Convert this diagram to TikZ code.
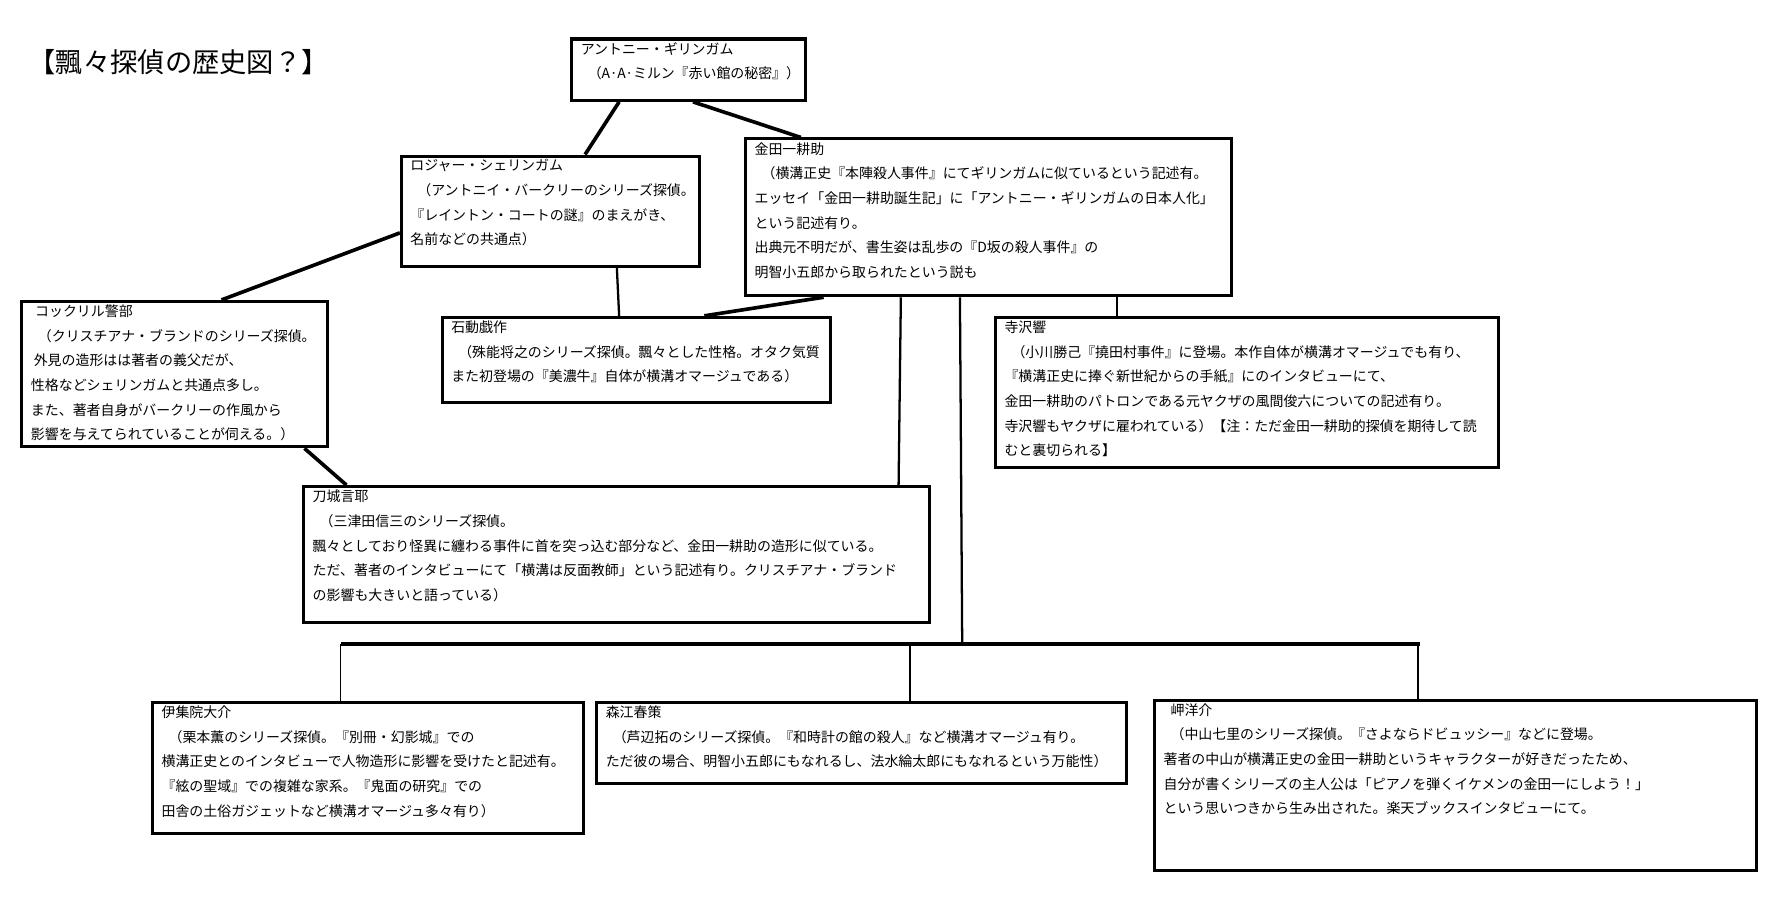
\documentclass[tikz,border=0pt]{standalone}
\usepackage{fontspec}
\setmainfont{Noto Sans CJK JP}
\usetikzlibrary{calc}
\begin{document}
\begin{tikzpicture}[x=0.75pt,y=-0.75pt,
  box/.style={draw,line width=2pt,rectangle,inner sep=0pt},
  txt/.style={anchor=north west,align=left,inner sep=0pt,font=\fontsize{9.2}{16.3}\selectfont},
  link/.style={line width=2.4pt},
  thin/.style={line width=1.5pt}]
\useasboundingbox[fill=white] (0,0) rectangle (1566,789);
\newcommand\mkbox[6]{%
  \node[box,minimum width={(#4-#2)*0.75pt},minimum height={(#5-#3)*0.75pt},anchor=north west] (#1) at (#2,#3) {};
  \node[txt] (#1t) at ($(#1.north west)+(9,4)$) {#6};}
\node[anchor=west,inner sep=0pt,font=\fontsize{18}{20}\selectfont] (title) at (25,55) {【飄々探偵の歴史図？】};
\mkbox{g}{502}{33}{708}{87}{アントニー・ギリンガム\\\hspace{0.5em}（A·A·ミルン『赤い館の秘密』）}
\mkbox{s}{352}{136}{614}{233}{ロジャー・シェリンガム\\\hspace{0.5em}（アントニイ・バークリーのシリーズ探偵。\\『レイントン・コートの謎』のまえがき、\\名前などの共通点）}
\mkbox{k}{655}{121}{1083}{259}{金田一耕助\\\hspace{0.5em}（横溝正史『本陣殺人事件』にてギリンガムに似ているという記述有。\\エッセイ「金田一耕助誕生記」に「アントニー・ギリンガムの日本人化」\\という記述有り。\\出典元不明だが、書生姿は乱歩の『D坂の殺人事件』の\\明智小五郎から取られたという説も}
\mkbox{c}{18}{264}{287}{392}{\hspace{0.3em}コックリル警部\\\hspace{0.5em}（クリスチアナ・ブランドのシリーズ探偵。\\\hspace{0.2em}外見の造形はは著者の義父だが、\\性格などシェリンガムと共通点多し。\\また、著者自身がバークリーの作風から\\影響を与えてられていることが伺える。）}
\mkbox{i}{388}{278}{730}{353}{石動戯作\\\hspace{0.5em}（殊能将之のシリーズ探偵。飄々とした性格。オタク気質\\また初登場の『美濃牛』自体が横溝オマージュである）}
\mkbox{t}{875}{278}{1318}{410}{寺沢響\\\hspace{0.5em}（小川勝己『撓田村事件』に登場。本作自体が横溝オマージュでも有り、\\『横溝正史に捧ぐ新世紀からの手紙』にのインタビューにて、\\金田一耕助のパトロンである元ヤクザの風間俊六についての記述有り。\\寺沢響もヤクザに雇われている）【注：ただ金田一耕助的探偵を期待して読\\むと裏切られる】}
\mkbox{o}{266}{427}{817}{547}{刀城言耶\\\hspace{0.5em}（三津田信三のシリーズ探偵。\\飄々としており怪異に纏わる事件に首を突っ込む部分など、金田一耕助の造形に似ている。\\ただ、著者のインタビューにて「横溝は反面教師」という記述有り。クリスチアナ・ブランド\\の影響も大きいと語っている）}
\mkbox{j}{133}{617}{512}{732}{伊集院大介\\\hspace{0.5em}（栗本薫のシリーズ探偵。『別冊・幻影城』での\\横溝正史とのインタビューで人物造形に影響を受けたと記述有。\\『絃の聖域』での複雑な家系。『鬼面の研究』での\\田舎の土俗ガジェットなど横溝オマージュ多々有り）}
\mkbox{m}{524}{617}{990}{688}{森江春策\\\hspace{0.5em}（芦辺拓のシリーズ探偵。『和時計の館の殺人』など横溝オマージュ有り。\\ただ彼の場合、明智小五郎にもなれるし、法水綸太郎にもなれるという万能性）}
\mkbox{y}{1015}{615}{1545}{765}{\hspace{0.5em}岬洋介\\\hspace{0.5em}（中山七里のシリーズ探偵。『さよならドビュッシー』などに登場。\\著者の中山が横溝正史の金田一耕助というキャラクターが好きだったため、\\自分が書くシリーズの主人公は「ピアノを弾くイケメンの金田一にしよう！」\\という思いつきから生み出された。楽天ブックスインタビューにて。}
% connectors
\draw[link] ($(g.south west)+(43,0)$) -- ($(s.north west)+(163,0)$);
\draw[link] ($(g.south west)+(108,0)$) -- ($(k.north west)+(50,0)$);
\draw[link] ($(s.north west)+(0,69)$) -- ($(c.north west)+(177,0)$);
\draw[thin] ($(s.south west)+(191,0)$) -- ($(i.north west)+(157,0)$);
\draw[link] ($(k.south west)+(70,0)$) -- ($(i.north west)+(232,0)$);
\draw[thin] ($(k.south west)+(138,0)$) -- ($(o.north west)+(525,0)$);
\coordinate (bus) at (847,567);
\draw[thin] ($(k.south west)+(190,0)$) -- (bus);
\draw[thin] ($(k.south west)+(328,0)$) -- ($(t.north west)+(108,0)$);
\draw[link] ($(c.south west)+(250,0)$) -- ($(o.north west)+(39,0)$);
\coordinate (busl) at (300,567);
\coordinate (busr) at (1250,567);
\draw[line width=3pt] (busl) -- (busr);
\draw[line width=0.8pt] (busl) -- (busl |- j.north);
\draw[line width=0.8pt] (801,567) -- (801,617);
\draw[thin] (1248,567) -- (1248,617);
\end{tikzpicture}
\end{document}
